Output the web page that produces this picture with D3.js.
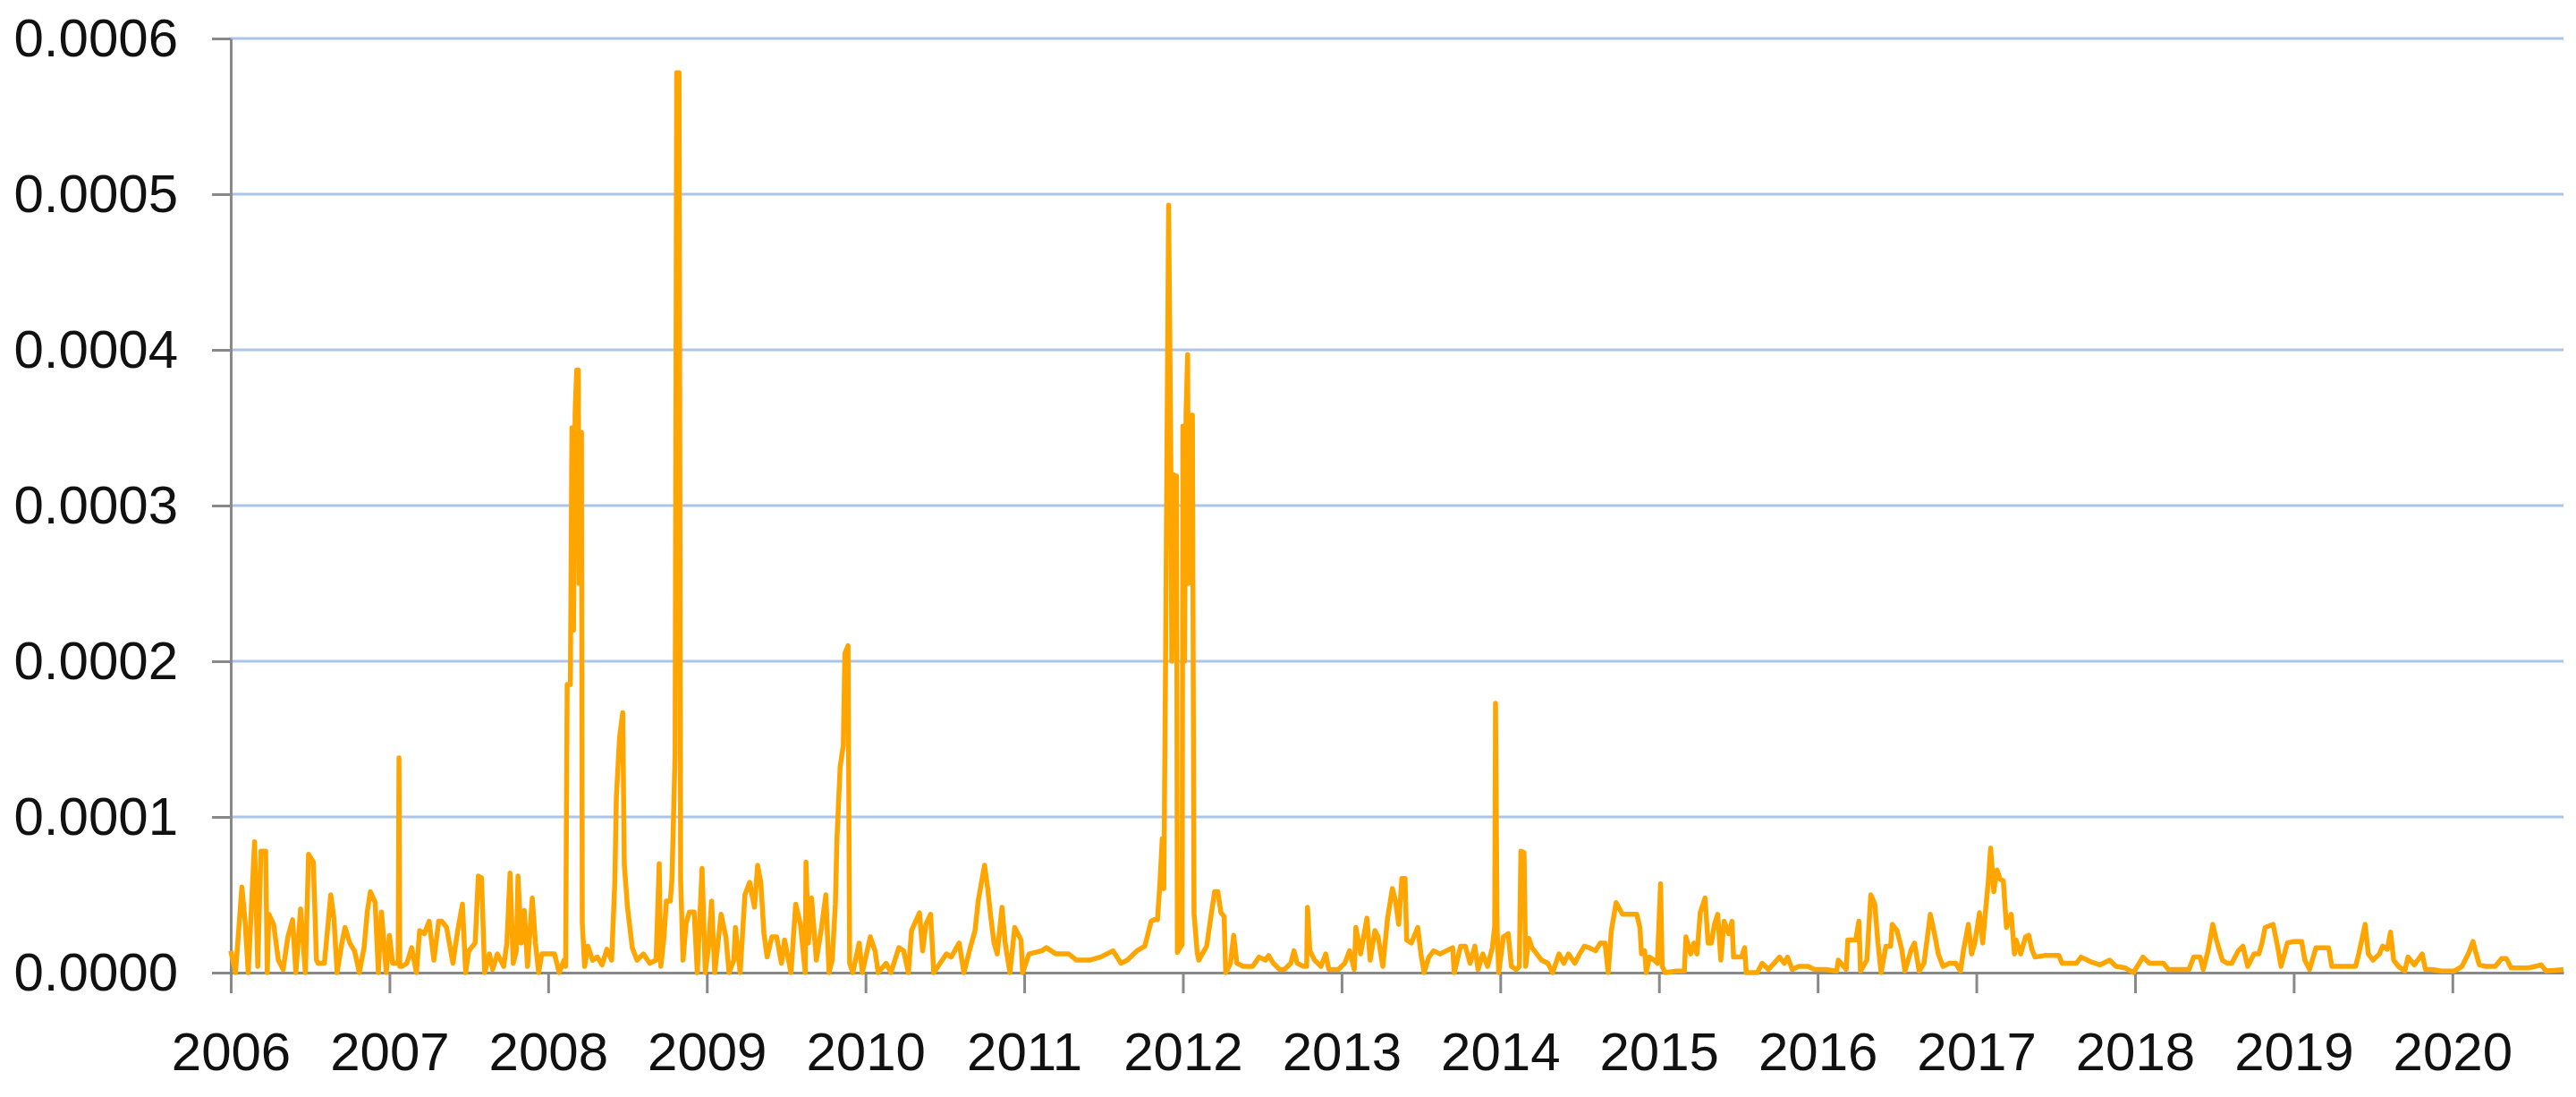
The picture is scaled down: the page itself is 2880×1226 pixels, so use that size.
<!DOCTYPE html>
<html>
<head>
<meta charset="utf-8">
<script src="https://cdn.jsdelivr.net/npm/d3@7"></script>
<style>
  body { margin: 0; background: #fff; }
  .axis text { font-family: "Liberation Sans", Arial, sans-serif; font-size: 60px; fill: #111; }
  .axis path, .axis line { stroke: #898989; stroke-width: 3; }
</style>
</head>
<body>
<svg id="chart" width="2880" height="1226"></svg>
<script>
// x tick labels (years) and y tick values
var yearTicks = [2006, 2007, 2008, 2009, 2010, 2011, 2012, 2013, 2014, 2015, 2016, 2017, 2018, 2019, 2020];
var yTicks = [0, 0.0001, 0.0002, 0.0003, 0.0004, 0.0005, 0.0006];
var xEnd = 2020.70;

// [decimal year, value x 1e-5]
var volPoints = [
  [2006.00,1.4],[2006.03,0],[2006.07,5.5],[2006.09,3.3],[2006.11,0],[2006.15,8.4],[2006.17,0.4],[2006.19,7.8],[2006.22,7.8],[2006.23,0],
  [2006.24,3.75],[2006.27,3.1],[2006.30,0.8],[2006.33,0.2],[2006.36,2.3],[2006.39,3.4],[2006.41,0],[2006.44,4.1],[2006.47,0],[2006.49,7.6],
  [2006.52,7.1],[2006.54,0.8],[2006.55,0.6],[2006.59,0.6],[2006.63,5.0],[2006.65,3.5],[2006.67,0],[2006.70,1.9],[2006.72,2.9],[2006.75,1.9],
  [2006.78,1.4],[2006.81,0],[2006.84,1.6],[2006.86,3.9],[2006.88,5.2],[2006.91,4.5],[2006.93,0],[2006.95,3.9],[2006.98,0],[2007.00,2.4],
  [2007.02,0.6],[2007.055,0.6],[2007.06,13.8],[2007.065,0.4],[2007.08,0.4],[2007.11,0.6],[2007.14,1.6],[2007.17,0],[2007.19,2.7],[2007.22,2.5],
  [2007.25,3.3],[2007.28,0.8],[2007.31,3.3],[2007.33,3.3],[2007.36,2.9],[2007.40,0.6],[2007.43,2.7],[2007.46,4.4],[2007.48,0],[2007.50,1.4],
  [2007.54,1.9],[2007.56,6.2],[2007.58,6.1],[2007.60,0],[2007.63,1.2],[2007.65,0.2],[2007.68,1.2],[2007.72,0.4],[2007.74,1.9],[2007.76,6.4],
  [2007.78,0.6],[2007.80,1.4],[2007.81,6.2],[2007.83,1.9],[2007.85,4.0],[2007.87,0.4],[2007.90,4.8],[2007.92,1.9],[2007.94,0],[2007.96,1.2],
  [2008.00,1.2],[2008.04,1.2],[2008.07,0],[2008.10,0.8],
  [2008.11,0.4],[2008.12,18.5],[2008.14,18.5],[2008.15,35],[2008.16,22],[2008.17,36],[2008.18,38.7],[2008.19,38.7],[2008.195,25],[2008.20,34.7],
  [2008.21,34.7],[2008.215,3.2],[2008.23,0.4],[2008.25,1.7],[2008.28,0.8],[2008.31,1.0],[2008.34,0.5],[2008.37,1.5],[2008.40,0.8],[2008.42,5.8],
  [2008.43,11.3],[2008.45,15.1],[2008.47,16.7],[2008.48,6.9],[2008.50,4.2],[2008.53,1.6],[2008.56,0.8],[2008.60,1.2],[2008.64,0.6],[2008.68,0.8],
  [2008.70,7.0],[2008.71,0.4],[2008.73,2.3],[2008.745,4.6],[2008.77,4.6],[2008.78,6.0],[2008.80,14],[2008.81,57.8],[2008.825,57.8],[2008.835,6.0],
  [2008.85,0.8],[2008.87,3.2],[2008.89,3.9],
  [2008.92,3.9],[2008.94,0],[2008.97,6.7],[2008.99,0],[2009.01,1.6],[2009.03,4.6],[2009.05,0],[2009.09,3.75],[2009.12,2.3],[2009.14,0],
  [2009.17,0.8],[2009.18,2.9],[2009.21,0],[2009.24,5.0],[2009.27,5.8],[2009.30,4.2],[2009.32,6.9],[2009.34,5.8],[2009.36,2.5],[2009.38,1.0],
  [2009.41,2.3],[2009.44,2.3],[2009.47,0.6],[2009.49,2.1],[2009.53,0],[2009.56,4.4],[2009.59,3.1],[2009.62,0],[2009.625,7.1],[2009.64,1.9],
  [2009.66,4.8],[2009.69,0.8],[2009.72,2.7],[2009.75,5.0],[2009.77,0],[2009.79,0.8],[2009.81,4.4],[2009.82,8.6],[2009.84,13.2],[2009.86,14.6],
  [2009.87,20.5],[2009.89,21],[2009.90,0.6],[2009.92,0],[2009.96,1.9],[2009.98,0],[2010.03,2.3],[2010.06,1.4],[2010.08,0],[2010.13,0.6],
  [2010.16,0],[2010.21,1.6],[2010.24,1.4],[2010.27,0],[2010.29,2.7],[2010.34,3.85],[2010.36,1.4],[2010.38,3.1],[2010.41,3.75],[2010.43,0],
  [2010.47,0.6],[2010.51,1.2],[2010.54,1.0],[2010.59,1.9],[2010.62,0],[2010.66,1.6],[2010.69,2.7],[2010.71,4.6],[2010.75,6.9],[2010.77,5.4],
  [2010.79,3.5],[2010.81,1.9],[2010.83,1.2],[2010.86,4.2],[2010.88,1.9],[2010.91,0],[2010.94,2.9],[2010.98,2.1],[2010.99,0],[2011.03,1.2],
  [2011.11,1.4],[2011.14,1.6],[2011.20,1.2],[2011.28,1.2],[2011.33,0.8],[2011.41,0.8],[2011.48,1.0],[2011.56,1.4],[2011.61,0.6],[2011.65,0.8],
  [2011.71,1.4],[2011.76,1.7],[2011.80,3.3],
  [2011.82,3.4],[2011.84,3.4],[2011.855,5.7],[2011.87,8.6],[2011.88,5.4],[2011.89,19],[2011.91,49.3],[2011.925,31.9],[2011.93,20],[2011.94,32],
  [2011.95,22],[2011.96,31.9],[2011.965,1.3],[2011.995,1.8],[2012.00,35.1],[2012.01,20],[2012.02,36],[2012.03,39.7],[2012.035,25],[2012.045,35.8],
  [2012.06,35.8],[2012.07,3.8],[2012.09,1.3],
  [2012.10,0.8],[2012.15,1.7],[2012.18,3.85],[2012.20,5.2],[2012.22,5.2],[2012.24,3.85],[2012.26,3.6],[2012.27,0],[2012.30,0.6],[2012.32,2.4],
  [2012.34,0.6],[2012.38,0.4],[2012.44,0.4],[2012.48,1.0],[2012.52,0.8],[2012.54,1.1],[2012.57,0.6],[2012.61,0.2],[2012.64,0.2],[2012.68,0.6],
  [2012.70,1.4],[2012.72,0.6],[2012.76,0.4],[2012.78,0.4],[2012.785,4.2],[2012.80,1.4],[2012.83,0.8],[2012.87,0.4],[2012.90,1.2],[2012.92,0.2],
  [2012.98,0.2],[2013.02,0.6],[2013.05,1.4],[2013.08,0.2],[2013.09,2.9],[2013.12,1.2],[2013.16,3.5],[2013.18,0.8],[2013.21,2.7],[2013.23,2.3],
  [2013.26,0.4],[2013.29,3.5],[2013.32,5.4],[2013.34,4.6],[2013.36,3.1],[2013.38,6.05],[2013.40,6.05],[2013.41,2.1],[2013.44,1.9],[2013.48,2.9],
  [2013.50,1.2],[2013.52,0],[2013.55,1.0],[2013.58,1.4],[2013.62,1.2],[2013.66,1.4],[2013.70,1.6],[2013.71,0],[2013.75,1.7],[2013.78,1.7],
  [2013.81,0.6],[2013.84,1.7],[2013.86,0.2],[2013.89,1.2],[2013.92,0.4],[2013.95,1.6],[2013.965,3.0],[2013.97,17.3],[2013.98,3.0],[2013.99,0],
  [2014.02,2.3],[2014.05,2.5],[2014.07,0.4],[2014.10,0.2],[2014.12,0.4],[2014.13,7.8],[2014.15,7.7],[2014.16,0.4],[2014.18,2.2],[2014.20,1.6],
  [2014.23,1.2],[2014.26,0.8],[2014.30,0.6],[2014.33,0],[2014.37,1.2],[2014.40,0.6],[2014.43,1.2],[2014.47,0.6],[2014.50,1.2],[2014.53,1.7],
  [2014.56,1.6],[2014.60,1.4],[2014.63,1.9],[2014.66,1.9],[2014.68,0],[2014.70,2.7],[2014.73,4.5],
  [2014.77,3.75],[2014.86,3.75],[2014.88,2.9],[2014.89,1.2],[2014.91,1.4],[2014.92,0],[2014.94,1.0],[2014.97,0.8],[2014.99,0.6],[2015.01,5.7],
  [2015.02,0.4],[2015.04,0],[2015.11,0.1],[2015.16,0.1],[2015.17,2.3],[2015.20,1.2],[2015.22,1.9],[2015.24,1.2],[2015.26,3.85],[2015.29,4.8],
  [2015.31,1.9],[2015.33,1.9],[2015.35,3.1],[2015.37,3.75],[2015.39,0.8],[2015.41,3.3],[2015.44,2.5],[2015.46,3.3],[2015.47,1.0],[2015.52,1.0],
  [2015.54,1.6],[2015.55,0],[2015.62,0],[2015.65,0.6],[2015.69,0.2],[2015.76,1.0],[2015.79,0.6],[2015.81,1.0],[2015.84,0.2],[2015.88,0.4],
  [2015.94,0.4],[2015.98,0.2],[2016.05,0.2],[2016.12,0.1],[2016.13,0.8],[2016.18,0.2],[2016.19,2.1],[2016.24,2.1],[2016.26,3.3],[2016.27,0.1],
  [2016.31,0.8],[2016.335,5.0],[2016.36,4.4],[2016.38,1.9],[2016.40,0],[2016.43,1.7],[2016.46,1.7],[2016.47,3.1],[2016.50,2.7],[2016.53,1.5],
  [2016.55,0.1],[2016.59,1.5],[2016.61,1.9],[2016.64,0.1],[2016.67,0.6],[2016.71,3.75],[2016.74,2.3],[2016.76,1.2],[2016.79,0.4],[2016.83,0.6],
  [2016.87,0.6],[2016.90,0.1],[2016.92,1.5],[2016.95,3.1],[2016.97,1.2],[2016.99,1.9],[2017.02,3.85],[2017.04,1.9],[2017.06,4.2],[2017.075,5.8],
  [2017.09,8.0],[2017.11,5.2],[2017.13,6.6],[2017.15,6.0],[2017.17,5.9],[2017.19,2.9],[2017.22,3.75],[2017.24,1.2],[2017.25,2.1],[2017.28,1.2],
  [2017.31,2.3],[2017.33,2.4],[2017.35,1.5],[2017.37,1.0],[2017.43,1.1],[2017.52,1.1],[2017.54,0.6],[2017.63,0.6],[2017.66,1.0],
  [2017.72,0.7],[2017.78,0.5],[2017.84,0.8],[2017.88,0.4],[2017.94,0.3],[2017.99,0],[2018.05,1.0],[2018.09,0.6],[2018.18,0.6],[2018.21,0.2],
  [2018.34,0.2],[2018.37,1.0],[2018.41,1.0],[2018.43,0.2],[2018.46,1.4],[2018.49,3.1],[2018.51,2.2],[2018.53,1.5],[2018.55,0.8],[2018.58,0.6],
  [2018.61,0.6],[2018.65,1.4],[2018.68,1.7],[2018.71,0.4],[2018.75,1.2],[2018.78,1.2],[2018.80,1.9],[2018.82,2.9],[2018.87,3.1],[2018.90,1.6],
  [2018.92,0.4],[2018.96,1.9],[2019.00,2.0],[2019.05,2.0],[2019.07,0.8],[2019.10,0.2],[2019.14,1.6],[2019.22,1.6],[2019.24,0.4],[2019.33,0.4],
  [2019.39,0.4],[2019.41,1.2],[2019.45,3.1],[2019.47,1.2],[2019.50,0.8],[2019.54,1.2],[2019.56,1.7],[2019.59,1.5],[2019.61,2.6],[2019.63,0.8],
  [2019.66,0.4],[2019.70,0.1],[2019.72,1.0],[2019.76,0.5],[2019.81,1.2],[2019.83,0.2],[2019.87,0.2],[2019.93,0.1],[2020.01,0.1],[2020.06,0.4],
  [2020.10,1.2],[2020.13,2.0],[2020.15,1.2],[2020.17,0.5],[2020.21,0.4],[2020.27,0.4],[2020.31,0.9],[2020.34,0.9],[2020.37,0.3],[2020.48,0.3],
  [2020.56,0.5],[2020.59,0.1],[2020.70,0.2]
];

function drawChart() {
  var svg = d3.select("#chart");
  var left = 258, right = 2866, top = 43, bottom = 1087;

  var x = d3.scaleLinear().domain([2006, xEnd]).range([left, right]);
  var y = d3.scaleLinear().domain([0, 0.0006]).range([bottom, top]);

  // horizontal gridlines
  svg.append("g")
     .selectAll("line")
     .data(yTicks.filter(function(d) { return d > 0; }))
     .enter().append("line")
     .attr("x1", left)
     .attr("x2", right)
     .attr("y1", function(d) { return y(d); })
     .attr("y2", function(d) { return y(d); })
     .attr("stroke", "#abc4ea")
     .attr("stroke-width", 3);

  svg.append("g")
     .attr("class", "axis")
     .attr("transform", "translate(0," + bottom + ")")
     .call(d3.axisBottom(x).tickValues(yearTicks).tickFormat(d3.format("d"))
             .tickSize(23).tickSizeOuter(0).tickPadding(43));

  svg.append("g")
     .attr("class", "axis")
     .attr("transform", "translate(" + left + ",0)")
     .call(d3.axisLeft(y).tickValues(yTicks).tickFormat(d3.format(".4f"))
             .tickSize(21).tickSizeOuter(0).tickPadding(38));

  var line = d3.line()
               .x(function(d) { return x(d[0]); })
               .y(function(d) { return y(d[1] * 1e-5); });

  svg.append("path")
     .datum(volPoints)
     .attr("d", line)
     .attr("fill", "none")
     .attr("stroke", "#ffa500")
     .attr("stroke-width", 5.5)
     .attr("stroke-linejoin", "round");
}

drawChart();
</script>
</body>
</html>
